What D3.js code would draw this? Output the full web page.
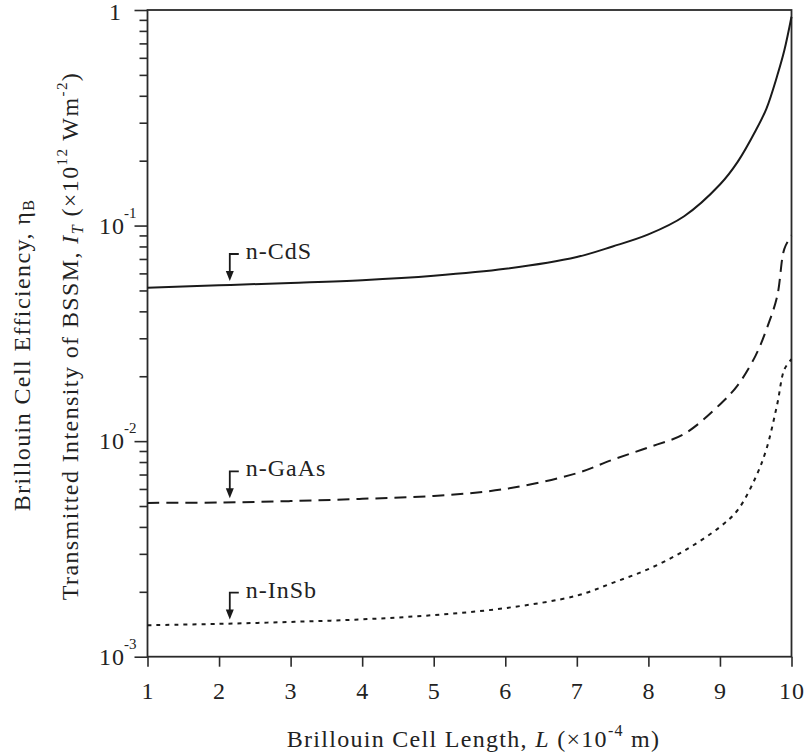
<!DOCTYPE html>
<html>
<head>
<meta charset="utf-8">
<script src="https://cdn.jsdelivr.net/npm/d3@7"></script>
<style>
  html, body { margin: 0; padding: 0; background: #fff; }
  svg { display: block; }
  text { font-family: "Liberation Serif", "Times New Roman", serif; fill: #222; }
</style>
</head>
<body>
<svg id="chart" width="805" height="754"></svg>
<script>
// Brillouin cell length L (×10^-4 m)
const cellLength = [1, 2, 3, 4, 5, 6, 7, 7.5, 8, 8.5, 9, 9.25, 9.5, 9.65, 9.8, 9.9, 10];

// Efficiency / transmitted intensity for each crystal
const cdsValues  = [0.0515, 0.0528, 0.0542, 0.0558, 0.0585, 0.0630, 0.0715, 0.080, 0.091, 0.1105, 0.155, 0.198, 0.276, 0.349, 0.495, 0.650, 0.930];
const gaasValues = [0.00517, 0.00519, 0.00527, 0.0054, 0.00557, 0.0060, 0.0071, 0.0082, 0.00935, 0.0108, 0.0148, 0.0182, 0.025, 0.033, 0.047, 0.078, 0.090];
const insbValues = [0.0014, 0.00142, 0.00145, 0.00149, 0.00156, 0.00168, 0.00192, 0.0022, 0.00255, 0.0031, 0.0040, 0.0048, 0.0068, 0.0092, 0.0148, 0.0215, 0.024];

const seriesNames = ["n-CdS", "n-GaAs", "n-InSb"];
const xTicks = [1, 2, 3, 4, 5, 6, 7, 8, 9, 10];
const yMajorTicks = [1e-3, 1e-2, 1e-1, 1];
const yMajorExponents = ["-3", "-2", "-1", null];
const labelAt = 2.15;   // L where the series labels point

const svg = d3.select("#chart");
const plotLeft = 147.5, plotRight = 791.5, plotTop = 10, plotBottom = 656.7;
const fontSize = 24, smallSize = 15;

const x = d3.scaleLinear().domain([1, 10]).range([plotLeft, plotRight]);
const y = d3.scaleLog().domain([1e-3, 1]).range([plotBottom, plotTop]);

// minor ticks 2..9 in each decade
const yMinorTicks = [];
[1e-3, 1e-2, 1e-1].forEach(d => { for (let k = 2; k <= 9; k++) yMinorTicks.push(d * k); });

const axisStroke = "#2a2a2a";

// left axis: minor then major ticks
svg.append("g")
  .attr("transform", `translate(${plotLeft},0)`)
  .call(d3.axisLeft(y).tickValues(yMinorTicks).tickSize(8).tickFormat(""))
  .call(g => g.select(".domain").remove())
  .selectAll("line").attr("stroke", axisStroke).attr("stroke-width", 1.6);

const yMaj = svg.append("g")
  .attr("transform", `translate(${plotLeft},0)`)
  .call(d3.axisLeft(y).tickValues(yMajorTicks).tickSize(13).tickFormat(""));
yMaj.select(".domain").remove();
yMaj.selectAll("line").attr("stroke", axisStroke).attr("stroke-width", 1.6);
yMaj.selectAll(".tick text").remove();

// y tick labels as powers of ten
yMajorTicks.forEach((v, i) => {
  const exp = yMajorExponents[i];
  if (exp === null) {
    svg.append("text").attr("x", 121).attr("y", y(v) + 10)
      .attr("text-anchor", "end").attr("font-size", fontSize).text("1");
  } else {
    svg.append("text").attr("x", 125).attr("y", y(v) + 8)
      .attr("text-anchor", "end").attr("font-size", fontSize)
      .attr("letter-spacing", 1).text("10");
    svg.append("text").attr("x", 124).attr("y", y(v) - 8)
      .attr("font-size", smallSize).text(exp);
  }
});

// bottom axis
const xAx = svg.append("g")
  .attr("transform", `translate(0,${plotBottom})`)
  .call(d3.axisBottom(x).tickValues(xTicks).tickSize(10).tickPadding(15).tickFormat(d3.format("d")));
xAx.select(".domain").remove();
xAx.selectAll("line").attr("stroke", axisStroke).attr("stroke-width", 1.6);
xAx.selectAll("text").attr("font-size", fontSize).attr("fill", "#222")
  .attr("letter-spacing", 1)
  .style("font-family", '"Liberation Serif", serif');

// plot frame
svg.append("rect")
  .attr("x", plotLeft).attr("y", plotTop)
  .attr("width", plotRight - plotLeft).attr("height", plotBottom - plotTop)
  .attr("fill", "none").attr("stroke", axisStroke).attr("stroke-width", 1.8);

// curves
const line = d3.line()
  .x(d => x(d[0])).y(d => y(d[1]))
  .curve(d3.curveCatmullRom.alpha(0.5));

const series = [
  { name: seriesNames[0], values: cdsValues,  dash: null },
  { name: seriesNames[1], values: gaasValues, dash: "12 7" },
  { name: seriesNames[2], values: insbValues, dash: "4 5" }
];

series.forEach(s => {
  const pts = cellLength.map((L, i) => [L, s.values[i]]);
  svg.append("path")
    .datum(pts)
    .attr("d", line)
    .attr("fill", "none")
    .attr("stroke", "#1a1a1a")
    .attr("stroke-width", 2)
    .attr("stroke-dasharray", s.dash);
});

// series labels with bent arrows
const valueAt = (vals, L) => {
  const i = d3.bisectRight(cellLength, L) - 1;
  const t = (L - cellLength[i]) / (cellLength[i + 1] - cellLength[i]);
  return Math.exp(Math.log(vals[i]) * (1 - t) + Math.log(vals[i + 1]) * t);
};

series.forEach(s => {
  const ax = x(labelAt);
  const tip = y(valueAt(s.values, labelAt)) - 4;
  const topY = tip - 27;
  svg.append("path")
    .attr("d", `M${ax + 9},${topY} H${ax} V${tip - 8}`)
    .attr("fill", "none").attr("stroke", "#1a1a1a").attr("stroke-width", 1.8);
  svg.append("path")
    .attr("d", `M${ax - 4},${tip - 10} L${ax + 4},${tip - 10} L${ax},${tip} Z`)
    .attr("fill", "#1a1a1a");
  svg.append("text")
    .attr("x", ax + 16).attr("y", topY + 5)
    .attr("font-size", fontSize).attr("letter-spacing", 1).text(s.name);
});

// axis titles
const xt = svg.append("text")
  .attr("x", (plotLeft + plotRight) / 2 + 4).attr("y", 747)
  .attr("text-anchor", "middle").attr("font-size", fontSize).attr("letter-spacing", 1.3);
xt.append("tspan").text("Brillouin Cell Length, ");
xt.append("tspan").attr("font-style", "italic").text("L");
xt.append("tspan").text(" (\u00d710");
xt.append("tspan").attr("font-size", smallSize + 1).attr("dy", -11).text("-4");
xt.append("tspan").attr("dy", 11).text(" m)");

const yt1 = svg.append("text")
  .attr("transform", "translate(30,355) rotate(-90)")
  .attr("text-anchor", "middle").attr("font-size", fontSize).attr("letter-spacing", 1.4);
yt1.append("tspan").text("Brillouin Cell Efficiency, \u03b7");
yt1.append("tspan").attr("font-size", smallSize + 1).attr("dy", 4).text("B");

const yt2 = svg.append("text")
  .attr("transform", "translate(78,336) rotate(-90)")
  .attr("text-anchor", "middle").attr("font-size", fontSize).attr("letter-spacing", 1.4);
yt2.append("tspan").text("Transmitted Intensity of BSSM, ");
yt2.append("tspan").attr("font-style", "italic").text("I");
yt2.append("tspan").attr("font-style", "italic").attr("font-size", smallSize + 1).attr("dy", 5).text("T");
yt2.append("tspan").attr("dy", -5).text(" (\u00d710");
yt2.append("tspan").attr("font-size", smallSize).attr("dy", -11).text("12");
yt2.append("tspan").attr("dy", 11).text(" Wm");
yt2.append("tspan").attr("font-size", smallSize).attr("dy", -11).text("-2");
yt2.append("tspan").attr("dy", 11).text(")");
</script>
</body>
</html>
